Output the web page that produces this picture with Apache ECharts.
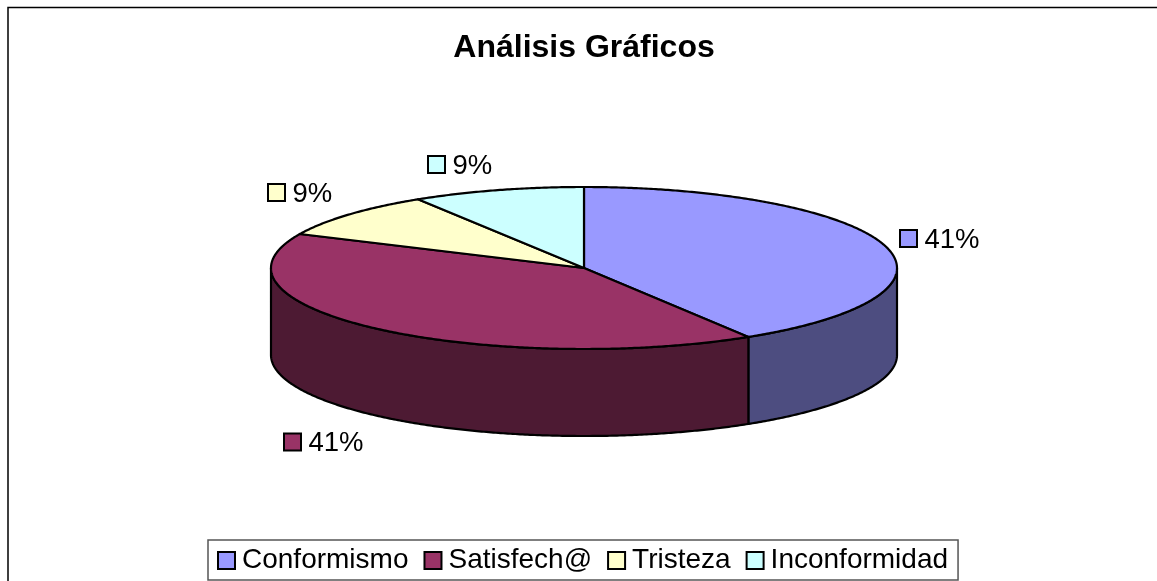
<!DOCTYPE html>
<html><head><meta charset="utf-8">
<style>html,body{margin:0;padding:0;background:#fff}#c{width:1157px;height:581px}</style>
<script src="https://cdn.jsdelivr.net/npm/echarts@6/dist/echarts.min.js"></script>
</head><body><div id="c"></div>
<script>
const categories = ['Conformismo', 'Satisfech@', 'Tristeza', 'Inconformidad'];
const values = [41.2, 40.7, 9.2, 8.9];
const topColors = ['#9999FF', '#993366', '#FFFFCC', '#CCFFFF'];
const sideColors = ['#4D4D80', '#4D1A33', '#808066', '#668080'];

const pie = { cx: 584, cy: 268, rx: 313, ry: 81, depth: 87 };
// label displacement (px) from each slice's rim midpoint
const labelOffsets = [[15, -7.4], [-92.3, 113.4], [-81.2, -21.9], [-69.6, -25.6]];

const total = values.reduce((a, b) => a + b, 0);
const TAU = Math.PI * 2;
function sliceAngles(i) {
  let s = 0;
  for (let k = 0; k < i; k++) s += values[k];
  return [s / total * TAU, (s + values[i]) / total * TAU];
}
// angle measured clockwise from 12 o'clock
const rim = (a, dy) => [pie.cx + pie.rx * Math.sin(a), pie.cy - pie.ry * Math.cos(a) + (dy || 0)];
function arc(a0, a1, dy) {
  const n = Math.max(2, Math.ceil((a1 - a0) / 0.008));
  const pts = [];
  for (let j = 0; j <= n; j++) pts.push(rim(a0 + (a1 - a0) * j / n, dy));
  return pts;
}
const strokeStyle = { stroke: '#000', lineWidth: 2.2, lineJoin: 'round' };

function renderSlice(i) {
  return function () {
    const [a0, a1] = sliceAngles(i);
    const children = [];
    // visible wall = part of the slice's arc on the front half (90deg..270deg)
    const w0 = Math.max(a0, Math.PI / 2), w1 = Math.min(a1, Math.PI * 1.5);
    if (w1 > w0) {
      const pts = arc(w0, w1, 0).concat(arc(w0, w1, pie.depth).reverse());
      children.push({ type: 'polygon', z2: 1, shape: { points: pts },
        style: Object.assign({ fill: sideColors[i] }, strokeStyle) });
    }
    const top = [[pie.cx, pie.cy]].concat(arc(a0, a1, 0));
    children.push({ type: 'polygon', z2: 2, shape: { points: top },
      style: Object.assign({ fill: topColors[i] }, strokeStyle) });
    // data label: key swatch + percentage
    const mid = (a0 + a1) / 2, p = rim(mid, 0), off = labelOffsets[i];
    const lx = Math.round(p[0] + off[0]), ly = Math.round((p[1] + off[1]) * 2) / 2;
    children.push({ type: 'rect', z2: 3, shape: { x: lx, y: ly - 8.5, width: 17, height: 17 },
      style: { fill: topColors[i], stroke: '#000', lineWidth: 2 } });
    children.push({ type: 'text', z2: 3, x: lx + 24.5, y: ly + 1.5,
      style: { text: Math.round(values[i] / total * 100) + '%', fill: '#000',
        font: '27.5px "Liberation Sans"', textAlign: 'left', textVerticalAlign: 'middle' } });
    return { type: 'group', children };
  };
}

const chart = echarts.init(document.getElementById('c'), null, { renderer: 'canvas' });
chart.setOption({
  animation: false,
  backgroundColor: '#fff',
  title: { text: 'Análisis Gráficos', left: 579, top: 27, textAlign: 'center',
    textStyle: { fontFamily: 'Liberation Sans', fontWeight: 'bold', fontSize: 32, color: '#000' } },
  legend: {
    data: categories, left: 208, top: 540, orient: 'horizontal',
    padding: [4, 10, 3, 9], itemGap: 15, itemWidth: 17, itemHeight: 17,
    borderColor: '#555', borderWidth: 1.5, backgroundColor: '#fff',
    itemStyle: { borderColor: '#000', borderWidth: 2 },
    textStyle: { fontFamily: 'Liberation Sans', fontSize: 28, lineHeight: 30, color: '#000', padding: [3, 0, 0, 2] },
    icon: 'rect', selectedMode: false
  },
  graphic: [{ type: 'rect', silent: true, z: -1,
    shape: { x: 8, y: 7.5, width: 1300, height: 800 },
    style: { fill: 'transparent', stroke: '#000', lineWidth: 1.5 } }],
  series: categories.map((name, i) => ({
    type: 'custom', name, coordinateSystem: 'none', silent: true,
    itemStyle: { color: topColors[i] },
    data: [values[i]], renderItem: renderSlice(i)
  }))
});
</script></body></html>
